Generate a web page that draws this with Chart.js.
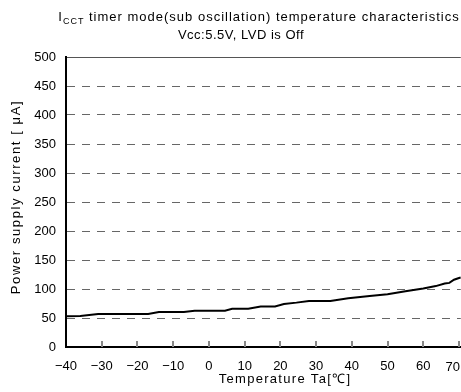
<!DOCTYPE html>
<html>
<head>
<meta charset="utf-8">
<script src="https://cdn.jsdelivr.net/npm/chart.js@4.4.1/dist/chart.umd.min.js"></script>
<style>
  html, body { margin: 0; padding: 0; background: #fff; overflow: hidden; }
  #wrap { width: 471px; height: 392px; }
</style>
</head>
<body>
<div id="wrap"><canvas id="chart" width="471" height="392"></canvas></div>
<script>
/* ===============================
   Data
================================ */
const temps    = [-40, -36, -31, -17, -14, -7, -4, 4.5, 6.5, 11, 14.5, 18.5, 21, 24.5, 28, 34, 39, 45, 50, 55, 60, 63.5, 66, 67.3, 68.6, 70, 70.5];
const currents = [53, 53.5, 57, 57, 60.5, 60.5, 62.5, 62.5, 66, 66, 70, 70, 74, 76.5, 79.5, 79.5, 84, 88, 91, 96, 101, 105, 109.5, 110.5, 116, 119, 120];
const xTicks   = [-40, -30, -20, -10, 0, 10, 20, 30, 40, 50, 60, 70];

const titleLine2 = "Vcc:5.5V, LVD is Off";
const xTitle = "Temperature Ta[\u2103]";
const yTitle = "Power supply current [ \u03bcA]";

const FONT = "'Liberation Sans', Arial, sans-serif";
const lastTick = xTicks[xTicks.length - 1];
const VIEW_W = 461;

/* ===============================
   Custom drawing: titles + inner ticks
================================ */
const decor = {
  id: "decor",
  afterDraw(chart) {
    const ctx = chart.ctx;
    const area = chart.chartArea;
    const x = chart.scales.x;

    // inner tick marks on the bottom axis
    ctx.save();
    ctx.strokeStyle = "#888";
    ctx.lineWidth = 2;
    xTicks.forEach(t => {
      if (t === -40) return;
      const px = Math.round(x.getPixelForValue(t));
      ctx.beginPath();
      ctx.moveTo(px, area.bottom);
      ctx.lineTo(px, area.bottom - 6);
      ctx.stroke();
    });
    ctx.restore();

    ctx.save();
    ctx.fillStyle = "#000";

    // last x label, pulled in from the edge
    ctx.font = "13px " + FONT;
    ctx.textAlign = "right";
    ctx.textBaseline = "middle";
    ctx.fillText(String(lastTick), VIEW_W - 1, area.bottom + 20);

    // chart title (I with CCT subscript)
    ctx.textAlign = "left";
    ctx.textBaseline = "alphabetic";
    ctx.letterSpacing = "1px";
    const rest = " timer mode(sub oscillation) temperature characteristics";
    const wI = ctx.measureText("I").width;
    const wR = ctx.measureText(rest).width;
    ctx.font = "9px " + FONT;
    const wS = ctx.measureText("CCT").width;
    let start = 259 - (wI + wS + wR) / 2;
    ctx.font = "13px " + FONT;
    ctx.fillText("I", start, 21);
    ctx.font = "9px " + FONT;
    ctx.fillText("CCT", start + wI, 24);
    ctx.font = "13px " + FONT;
    ctx.fillText(rest, start + wI + wS, 21);

    ctx.textAlign = "center";
    ctx.letterSpacing = "0.5px";
    ctx.fillText(titleLine2, 241, 39);

    // x axis title
    ctx.letterSpacing = "1.3px";
    ctx.fillText(xTitle, 285, 383);

    // y axis title
    ctx.translate(16, 197);
    ctx.rotate(-Math.PI / 2);
    ctx.letterSpacing = "1.6px";
    ctx.textBaseline = "middle";
    ctx.fillText(yTitle, 0, 0);
    ctx.restore();
  }
};

/* ===============================
   Chart
================================ */
new Chart(document.getElementById("chart"), {
  type: "scatter",
  data: {
    datasets: [{
      data: temps.map((t, i) => ({ x: t, y: currents[i] })),
      showLine: true,
      borderColor: "#000",
      borderWidth: 2,
      pointRadius: 0,
      tension: 0
    }]
  },
  options: {
    responsive: false,
    animation: false,
    layout: { padding: { top: 57, left: 0, right: 0, bottom: 0 } },
    plugins: {
      legend: { display: false },
      tooltip: { enabled: false }
    },
    scales: {
      x: {
        type: "linear",
        min: -40,
        max: 70.5,
        afterBuildTicks: s => { s.ticks = xTicks.map(v => ({ value: v })); },
        afterFit: s => { s.height = 45; },
        grid: { drawOnChartArea: false, drawTicks: false },
        border: { display: true, color: "#000", width: 2 },
        ticks: {
          padding: 12,
          maxRotation: 0,
          color: "#000",
          font: { family: FONT, size: 13 },
          callback: v => (v === lastTick ? "" : (v < 0 ? "\u2212" + Math.abs(v) : v))
        }
      },
      y: {
        min: 0,
        max: 500,
        ticks: {
          stepSize: 50,
          padding: 10,
          color: "#000",
          font: { family: FONT, size: 13 }
        },
        afterFit: s => { s.width = 66; },
        grid: {
          drawTicks: false,
          lineWidth: 1,
          color: c => c.tick && c.tick.value === 0 ? "rgba(0,0,0,0)" : (c.tick && c.tick.value === 500 ? "#555" : "#666")
        },
        border: {
          display: true,
          color: "#000",
          width: 2,
          dash: c => c.tick && c.tick.value === 500 ? [] : [8, 7]
        }
      }
    }
  },
  plugins: [decor]
});
</script>
</body>
</html>
